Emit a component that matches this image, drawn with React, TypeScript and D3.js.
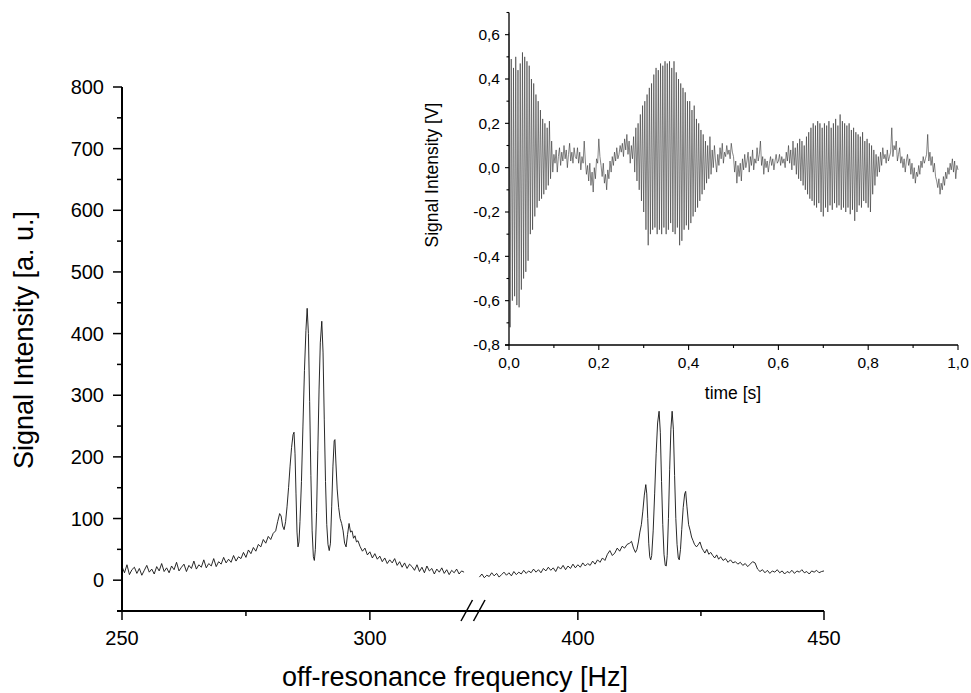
import React from 'react';
import * as d3 from 'd3';

// ---------- DATA ----------
// Main spectrum, left segment (Hz, a.u.)
const leftSpectrum: [number, number][] = [
  [250.0,22],[250.5,12],[251.0,25],[251.5,9],[252.0,17],[252.5,21],[253.0,11],[253.5,19],[254.0,8],[254.5,16],
  [255.0,24],[255.5,13],[256.0,18],[256.5,10],[257.0,22],[257.5,15],[258.0,27],[258.5,14],[259.0,20],[259.5,12],
  [260.0,23],[260.5,17],[261.0,29],[261.5,15],[262.0,21],[262.5,26],[263.0,14],[263.5,24],[264.0,19],[264.5,31],
  [265.0,18],[265.5,25],[266.0,21],[266.5,33],[267.0,20],[267.5,27],[268.0,23],[268.5,35],[269.0,22],[269.5,30],
  [270.0,26],[270.5,37],[271.0,28],[271.5,34],[272.0,29],[272.5,40],[273.0,31],[273.5,38],[274.0,35],[274.5,45],
  [275.0,37],[275.5,49],[276.0,43],[276.5,53],[277.0,47],[277.5,58],[278.0,54],[278.5,66],[279.0,60],[279.5,71],
  [280.0,66],[280.5,76],
  [281.0,80],[281.4,95],[281.8,108],[282.1,104],[282.4,88],[282.7,82],[283.0,95],[283.3,120],[283.6,150],[283.9,185],
  [284.2,215],[284.5,236],[284.7,240],[284.9,205],[285.1,140],[285.3,78],[285.5,54],[285.7,62],[285.9,95],[286.2,160],
  [286.5,250],[286.8,340],[287.1,405],[287.35,441],[287.6,400],[287.85,290],[288.1,170],[288.35,80],[288.6,38],[288.8,32],
  [289.0,50],[289.25,110],[289.5,210],[289.75,310],[290.0,385],[290.3,420],[290.55,370],[290.8,260],[291.05,160],[291.3,90],
  [291.55,58],[291.8,48],[292.05,60],[292.3,120],[292.55,185],[292.8,226],[292.95,228],[293.15,190],[293.4,148],[293.7,118],
  [294.0,100],[294.3,92],[294.6,80],[294.9,60],[295.2,54],[295.5,74],[295.8,92],[296.1,78],[296.4,80],[296.7,68],
  [297.0,72],[297.3,62],[297.6,64],
  [298.0,55],[298.5,47],[299.0,52],[299.5,41],[300.0,46],[300.5,36],[301.0,43],[301.5,34],[302.0,39],[302.5,30],
  [303.0,36],[303.5,27],[304.0,33],[304.5,28],[305.0,35],[305.5,24],[306.0,30],[306.5,21],[307.0,28],[307.5,19],
  [308.0,26],[308.5,22],[309.0,16],[309.5,25],[310.0,14],[310.5,21],[311.0,12],[311.5,23],[312.0,15],[312.5,19],
  [313.0,10],[313.5,18],[314.0,13],[314.5,20],[315.0,11],[315.5,17],[316.0,9],[316.5,16],[317.0,12],[317.5,18],
  [318.0,10],[318.5,15],[319.0,13],
];

// Main spectrum, right segment (Hz, a.u.)
const rightSpectrum: [number, number][] = [
  [380.0,5],[380.5,10],[381.0,4],[381.5,8],[382.0,6],[382.5,12],[383.0,7],[383.5,11],[384.0,5],[384.5,9],
  [385.0,13],[385.5,8],[386.0,12],[386.5,7],[387.0,14],[387.5,9],[388.0,13],[388.5,10],[389.0,16],[389.5,11],
  [390.0,15],[390.5,12],[391.0,18],[391.5,13],[392.0,17],[392.5,12],[393.0,19],[393.5,15],[394.0,21],[394.5,16],
  [395.0,20],[395.5,14],[396.0,22],[396.5,18],[397.0,24],[397.5,17],[398.0,23],[398.5,19],[399.0,26],[399.5,20],
  [400.0,25],[400.5,21],[401.0,28],[401.5,23],[402.0,27],[402.5,24],[403.0,31],[403.5,26],[404.0,33],[404.5,29],
  [405.0,36],[405.5,32],[406.0,42],[406.5,48],[407.0,40],[407.5,44],[408.0,52],[408.5,47],[409.0,55],[409.5,52],
  [410.0,58],[410.5,60],[410.9,63],[411.3,52],[411.7,45],[412.0,50],[412.3,62],[412.6,78],[412.9,90],[413.2,112],
  [413.5,138],[413.8,155],[414.0,140],[414.2,100],[414.4,60],[414.6,38],[414.8,33],[415.0,40],[415.3,80],[415.6,140],
  [415.9,205],[416.2,255],[416.5,274],[416.75,240],[417.0,160],[417.25,90],[417.5,42],[417.75,24],[417.95,23],[418.15,40],
  [418.4,100],[418.65,180],[418.9,245],[419.15,274],[419.4,245],[419.65,170],[419.9,100],[420.15,58],[420.4,36],[420.6,33],
  [420.85,50],[421.1,82],[421.4,118],[421.7,140],[421.9,144],[422.15,120],[422.5,90],[422.8,81],[423.1,70],[423.4,64],
  [423.7,58],[424.1,54],[424.5,58],[424.8,62],[425.2,52],[425.5,48],[425.8,44],[426.2,50],[426.6,42],[427.0,45],
  [427.4,40],[427.8,36],[428.2,41],[428.6,34],[429.0,38],[429.5,32],[430.0,35],[430.5,29],[431.0,33],[431.5,28],
  [432.0,30],[432.5,26],[433.0,29],[433.5,24],[434.0,27],[434.5,22],[435.0,26],[435.5,30],[436.0,28],[436.5,18],
  [437.0,14],[437.5,17],[438.0,12],[438.5,16],[439.0,11],[439.5,15],[440.0,13],[440.5,17],[441.0,12],[441.5,15],
  [442.0,10],[442.5,14],[443.0,12],[443.5,16],[444.0,11],[444.5,15],[445.0,13],[445.5,17],[446.0,12],[446.5,14],
  [447.0,10],[447.5,15],[448.0,13],[448.5,16],[449.0,12],[449.5,14],[450.0,15],
];

// Inset FID: sampled every fidStep seconds, starting at 0 s (V)
const fidStep = 0.0025;
const fidValues: number[] = [
  0.61,-0.72,0.49,-0.60,0.45,-0.58,0.50,-0.62,0.44,-0.63,0.47,-0.55,0.52,-0.50,0.50,-0.47,0.48,-0.42,0.46,-0.30,
  0.40,-0.28,0.38,-0.22,0.33,-0.18,0.30,-0.15,0.26,-0.14,0.22,-0.12,0.20,-0.10,0.18,-0.08,0.21,-0.05,0.12,-0.02,
  0.06,0.02,0.08,-0.02,0.05,0.09,0.01,0.07,0.03,0.10,0.04,0.08,0.00,0.06,0.11,0.03,0.07,0.02,0.09,0.05,
  0.04,0.09,0.02,0.07,-0.01,0.05,0.02,0.12,0.03,-0.03,0.01,-0.06,0.02,-0.08,-0.02,-0.11,0.00,-0.05,0.04,0.02,
  0.13,0.05,0.01,-0.04,0.02,-0.07,-0.03,-0.10,-0.01,-0.05,0.03,-0.02,0.05,0.01,0.07,0.03,0.09,0.04,0.06,0.10,
  0.07,0.11,0.05,0.13,0.08,0.15,0.06,0.12,0.02,0.10,0.04,0.14,-0.02,0.18,-0.06,0.20,-0.10,0.24,-0.15,0.28,
  -0.20,0.30,-0.28,0.33,-0.35,0.36,-0.30,0.38,-0.28,0.42,-0.27,0.45,-0.30,0.44,-0.28,0.47,-0.30,0.46,-0.27,0.48,
  -0.30,0.47,-0.28,0.48,-0.25,0.45,-0.29,0.48,-0.30,0.43,-0.27,0.40,-0.35,0.38,-0.33,0.36,-0.28,0.34,-0.26,0.30,
  -0.28,0.30,-0.25,0.26,-0.22,0.28,-0.20,0.22,-0.18,0.20,-0.15,0.17,-0.12,0.15,-0.10,0.12,-0.07,0.10,-0.05,0.14,
  -0.03,0.08,0.00,0.10,0.03,-0.02,0.06,0.01,0.09,0.04,0.11,0.02,0.07,0.05,0.10,0.06,0.08,0.04,0.11,0.07,
  0.05,-0.02,0.03,-0.07,0.01,-0.04,0.02,-0.06,0.04,-0.01,0.06,0.00,0.03,0.07,-0.02,0.05,0.01,0.08,-0.01,0.04,
  0.02,0.09,0.03,0.06,0.12,0.01,0.05,-0.03,0.04,0.00,0.03,-0.02,0.02,0.05,0.01,0.04,-0.01,0.03,0.06,0.02,
  0.03,0.06,0.01,0.05,0.02,0.04,0.00,0.07,0.03,0.10,0.02,0.08,-0.01,0.12,0.01,0.09,-0.03,0.11,-0.05,0.13,
  -0.06,0.12,-0.08,0.10,-0.10,0.14,-0.12,0.16,-0.14,0.18,-0.15,0.20,-0.17,0.19,-0.18,0.21,-0.16,0.20,-0.20,0.18,
  -0.22,0.20,-0.18,0.19,-0.20,0.21,-0.17,0.18,-0.19,0.20,-0.16,0.22,-0.18,0.19,-0.17,0.24,-0.19,0.21,-0.18,0.20,
  -0.20,0.19,-0.18,0.20,-0.21,0.17,-0.19,0.18,-0.24,0.16,-0.20,0.15,-0.17,0.14,-0.18,0.16,-0.15,0.12,-0.16,0.13,
  -0.18,0.11,-0.20,0.10,-0.12,0.08,-0.08,0.06,-0.04,0.05,-0.02,0.07,0.01,0.09,0.04,0.06,0.02,0.08,0.03,0.05,
  0.07,0.18,0.05,0.10,0.08,0.12,0.03,0.06,0.09,0.02,0.05,0.00,0.04,-0.02,0.03,0.06,0.01,0.04,-0.03,0.02,
  -0.05,0.00,-0.07,-0.02,-0.04,0.01,-0.03,0.03,0.00,0.05,0.02,0.04,0.06,0.15,0.03,0.07,0.01,0.05,-0.02,0.02,
  -0.04,-0.06,-0.09,-0.05,-0.12,-0.07,-0.10,-0.04,-0.08,-0.02,-0.05,0.00,-0.03,0.02,-0.01,0.04,-0.02,0.03,-0.05,0.01,
  -0.01,
];

const mainYTicks = [0, 100, 200, 300, 400, 500, 600, 700, 800];
const mainYMinor = [50, 150, 250, 350, 450, 550, 650, 750];
const mainXTicks = [250, 300, 400, 450];
const mainXMinor = [275, 425];
const insetYTicks = [-0.8, -0.6, -0.4, -0.2, 0, 0.2, 0.4, 0.6];
const insetYMinor = [-0.7, -0.5, -0.3, -0.1, 0.1, 0.3, 0.5, 0.7];
const insetXTicks = [0, 0.2, 0.4, 0.6, 0.8, 1.0];
const insetXMinor = [0.1, 0.3, 0.5, 0.7, 0.9];

const FONT = "'Liberation Sans', Arial, Helvetica, sans-serif";

const commaLocale = d3.formatLocale({ decimal: ',', thousands: '.', grouping: [3], currency: ['', ''], minus: '-' });
const fmt1 = commaLocale.format('.1f');

export default function App() {
  // main scales (broken x axis)
  const x = d3.scaleLinear().domain([250, 320.8, 378.7, 450]).range([122, 473, 473, 824]);
  const y = d3.scaleLinear().domain([-50, 800]).range([611, 87]);
  // inset scales
  const ix = d3.scaleLinear().domain([0, 1]).range([509, 958]);
  const iy = d3.scaleLinear().domain([-0.8, 0.7]).range([345, 12.5]);

  const specLine = d3.line<[number, number]>().x(d => x(d[0])).y(d => y(d[1]));
  const fidLine = d3.line<number>().x((_, i) => ix(i * fidStep)).y(d => iy(d));

  const axisY0 = y(-50);
  const axisX0 = x(250);
  const breakX = x(320.8);

  return (
    <svg width={971} height={693} style={{ position: 'absolute', left: 0, top: 0, background: '#fff' }}
      fontFamily={FONT}>
      <rect x={0} y={0} width={971} height={693} fill="#fff" />

      {/* main data */}
      <path d={specLine(leftSpectrum) || ''} fill="none" stroke="#111" strokeWidth={0.9} />
      <path d={specLine(rightSpectrum) || ''} fill="none" stroke="#111" strokeWidth={0.9} />

      {/* main y axis */}
      <line x1={axisX0} x2={axisX0} y1={y(800)} y2={axisY0} stroke="#000" strokeWidth={2} />
      {mainYTicks.map(t => (
        <g key={'my' + t}>
          <line x1={axisX0 - 9} x2={axisX0} y1={y(t)} y2={y(t)} stroke="#000" strokeWidth={1.5} />
          <text x={axisX0 - 18} y={y(t)} dy="0.35em" textAnchor="end" fontSize={20}>{t}</text>
        </g>
      ))}
      {mainYMinor.map(t => (
        <line key={'mym' + t} x1={axisX0 - 5} x2={axisX0} y1={y(t)} y2={y(t)} stroke="#000" strokeWidth={1.5} />
      ))}

      {/* main x axis */}
      <line x1={axisX0 - 5} x2={x(450)} y1={axisY0} y2={axisY0} stroke="#000" strokeWidth={2} />
      {mainXTicks.map(t => (
        <g key={'mx' + t}>
          <line x1={x(t)} x2={x(t)} y1={axisY0} y2={axisY0 + 9} stroke="#000" strokeWidth={1.5} />
          <text x={x(t)} y={axisY0 + 34} textAnchor="middle" fontSize={20}>{t}</text>
        </g>
      ))}
      {mainXMinor.map(t => (
        <line key={'mxm' + t} x1={x(t)} x2={x(t)} y1={axisY0} y2={axisY0 + 5} stroke="#000" strokeWidth={1.5} />
      ))}
      {/* axis break marks */}
      <line x1={breakX - 12} x2={breakX - 0.5} y1={axisY0 + 10} y2={axisY0 - 11} stroke="#000" strokeWidth={1.5} />
      <line x1={breakX + 0.5} x2={breakX + 12} y1={axisY0 + 10} y2={axisY0 - 11} stroke="#000" strokeWidth={1.5} />

      {/* main titles */}
      <text transform={`translate(33, 340) rotate(-90)`} textAnchor="middle" fontSize={27}>
        Signal Intensity [a. u.]
      </text>
      <text x={455} y={686} textAnchor="middle" fontSize={27}>off-resonance frequency [Hz]</text>

      {/* inset data */}
      <path d={fidLine(fidValues) || ''} fill="none" stroke="#333" strokeWidth={0.6} />

      {/* inset y axis */}
      <line x1={ix(0)} x2={ix(0)} y1={iy(0.7)} y2={iy(-0.8)} stroke="#000" strokeWidth={1.3} />
      {insetYTicks.map(t => (
        <g key={'iy' + t}>
          <line x1={ix(0) - 4} x2={ix(0)} y1={iy(t)} y2={iy(t)} stroke="#000" strokeWidth={1.1} />
          <text x={ix(0) - 9} y={iy(t)} dy="0.35em" textAnchor="end" fontSize={15.5}>{fmt1(t)}</text>
        </g>
      ))}
      {insetYMinor.map(t => (
        <line key={'iym' + t} x1={ix(0) - 2.5} x2={ix(0)} y1={iy(t)} y2={iy(t)} stroke="#000" strokeWidth={1.1} />
      ))}

      {/* inset x axis */}
      <line x1={ix(0) - 4} x2={ix(1)} y1={iy(-0.8)} y2={iy(-0.8)} stroke="#000" strokeWidth={1.3} />
      {insetXTicks.map(t => (
        <g key={'ix' + t}>
          <line x1={ix(t)} x2={ix(t)} y1={iy(-0.8)} y2={iy(-0.8) + 5} stroke="#000" strokeWidth={1.1} />
          <text x={ix(t)} y={iy(-0.8) + 23} textAnchor="middle" fontSize={15.5}>{fmt1(t)}</text>
        </g>
      ))}
      {insetXMinor.map(t => (
        <line key={'ixm' + t} x1={ix(t)} x2={ix(t)} y1={iy(-0.8)} y2={iy(-0.8) + 3} stroke="#000" strokeWidth={1.1} />
      ))}

      {/* inset titles */}
      <text transform={`translate(438, 175) rotate(-90)`} textAnchor="middle" fontSize={17.5}>Signal Intensity [V]</text>
      <text x={733} y={399} textAnchor="middle" fontSize={17.5}>time [s]</text>
    </svg>
  );
}
